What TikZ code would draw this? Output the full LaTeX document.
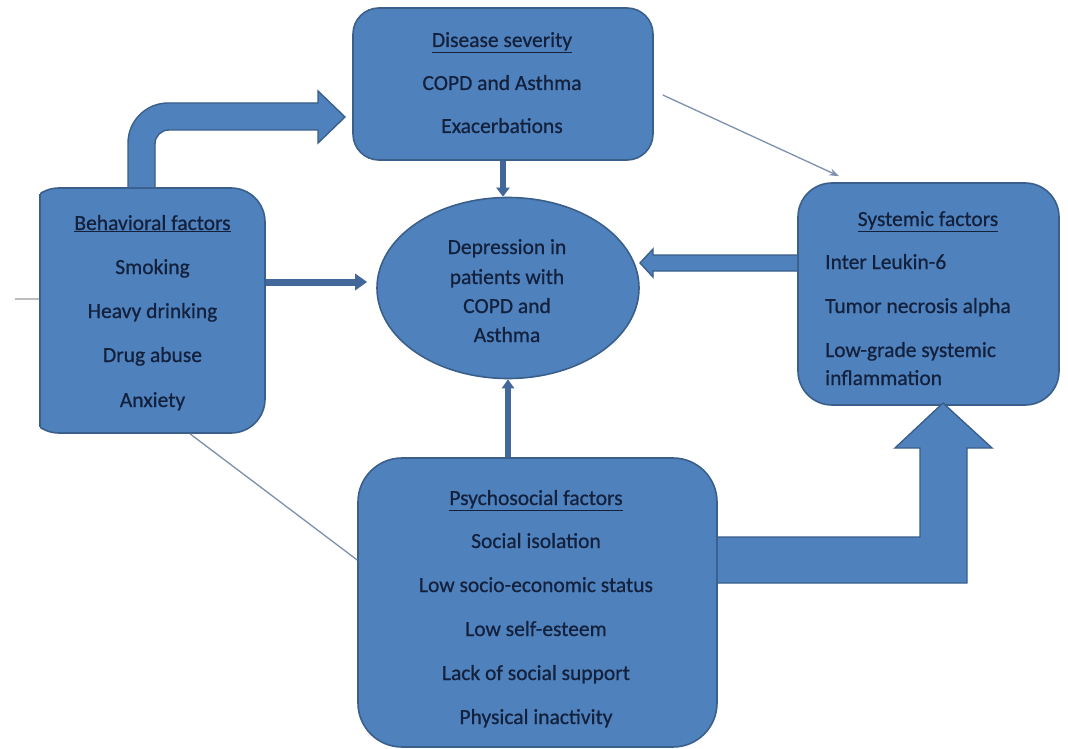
\documentclass[tikz,border=0pt]{standalone}
\usepackage{fontspec}
\setmainfont{Carlito}
\newfontfamily\labelfont{Carlito}[FakeBold=0.7]
\usetikzlibrary{arrows.meta,shapes.geometric,calc}
\definecolor{bfill}{HTML}{4F81BD}
\definecolor{bline}{HTML}{3A5F8B}
\definecolor{sarrow}{HTML}{42679A}
\definecolor{txt}{HTML}{13213D}
\definecolor{thinc}{HTML}{7D90AE}
\definecolor{stubc}{HTML}{BDBDBD}
\begin{document}
\begin{tikzpicture}[x=1pt,y=-1pt,
  box/.style={draw=bline, fill=bfill, line width=1.6pt, inner sep=0pt},
  lbl/.style={text=txt, font=\labelfont\fontsize{21.5}{26}\selectfont, anchor=base, inner sep=0pt},
  lbll/.style={lbl, anchor=base west},
  shaftarrow/.style={draw=sarrow, line width=6pt},
  thinarrow/.style={draw=thinc, line width=1.3pt},
  blockarrow/.style={draw=bline, fill=bfill, line width=1.4pt, line join=miter}]
\useasboundingbox (0,0) rectangle (1068,749);
\fill[white] (0,0) rectangle (1068,749);

% grey stub at left
\coordinate (stubL) at (15,299);
\draw[stubc, line width=2pt] (stubL) -- (40,299);

% boxes
\node[box, rounded corners=26pt, minimum width=300pt, minimum height=152pt] (dis) at (503,84) {};
\node[box, rounded corners=34pt, minimum width=261pt, minimum height=222pt] (sys) at (928.5,294) {};
\node[box, rounded corners=44pt, minimum width=359pt, minimum height=289pt] (psy) at (537.5,602.5) {};
\node[box, shape=ellipse, minimum width=262pt, minimum height=181pt] (ell) at (508,288) {};
\begin{scope}
  \clip (40,0) rectangle (1068,749);
  \node[box, rounded corners=34pt, minimum width=240pt, minimum height=245pt] (beh) at (145,310.5) {};
\end{scope}
\draw[bline, line width=1.6pt] (40,193.8) -- (40,427.2);

% block arrows
\filldraw[blockarrow] (beh.north -| 128,0) -- (128,143)
  .. controls (128,121) and (146,103) .. (168,103) -- (318,103) -- (318,91)
  -- (345,117) -- (318,143) -- (318,130) -- (169,130)
  .. controls (161,130) and (155,136) .. (155,144) -- (beh.north -| 155,0);
\filldraw[blockarrow] (psy.east |- 0,537) -- (920,537) -- (920,448) -- (895,448)
  -- (943,403) -- (992,448) -- (967,448) -- (967,583) -- (psy.east |- 0,583);
\filldraw[blockarrow] (sys.west |- 0,255) -- (653,255) -- (653,249) -- (640,263)
  -- (653,277) -- (653,271) -- (sys.west |- 0,271);

% small arrows
\draw[shaftarrow, -{Triangle[width=13pt,length=9pt]}] (dis.south) -- (dis.south |- ell.north);
\draw[shaftarrow, -{Triangle[width=12pt,length=9pt]}] (ell.south |- psy.north) -- (ell.south);
\draw[shaftarrow, line width=7pt, -{Triangle[width=16pt,length=12pt]}, shorten >=9pt]
  (beh.east |- 0,282) -- (ell.west |- 0,282);

% thin lines
\draw[thinarrow, -{Stealth[length=10pt,width=7pt]}] ($(dis.east)+(9,11)$) -- ($(sys.north west)+(42,-6)$);
\draw[thinarrow] ($(beh.south)+(45,0)$) -- (psy.west |- 0,560);

% texts: disease severity
\node[lbl] (d0) at (502,47) {\underline{Disease severity}};
\node[lbl] (d1) at (502,90) {COPD and Asthma};
\node[lbl] (d2) at (502,133) {Exacerbations};

% behavioral
\node[lbl] (b0) at (152.5,230) {\underline{Behavioral factors}};
\node[lbl] (b1) at (152.5,274) {Smoking};
\node[lbl] (b2) at (152.5,318) {Heavy drinking};
\node[lbl] (b3) at (152.5,362) {Drug abuse};
\node[lbl] (b4) at (152.5,407) {Anxiety};

% ellipse
\node[lbl] (e1) at (507,254) {Depression in};
\node[lbl] (e2) at (507,284) {patients with};
\node[lbl] (e3) at (507,313) {COPD and};
\node[lbl] (e4) at (507,342) {Asthma};

% systemic
\node[lbl] (s0) at (928,226) {\underline{Systemic factors}};
\node[lbll] (s1) at (825,269) {Inter Leukin-6};
\node[lbll] (s2) at (825,313) {Tumor necrosis alpha};
\node[lbll] (s3) at (825,357) {Low-grade systemic};
\node[lbll] (s4) at (825,385) {inflammation};

% psychosocial
\node[lbl] (p0) at (536,505) {\underline{Psychosocial factors}};
\node[lbl] (p1) at (536,548) {Social isolation};
\node[lbl] (p2) at (536,592) {Low socio-economic status};
\node[lbl] (p3) at (536,636) {Low self-esteem};
\node[lbl] (p4) at (536,680) {Lack of social support};
\node[lbl] (p5) at (536,724) {Physical inactivity};
\end{tikzpicture}
\end{document}
